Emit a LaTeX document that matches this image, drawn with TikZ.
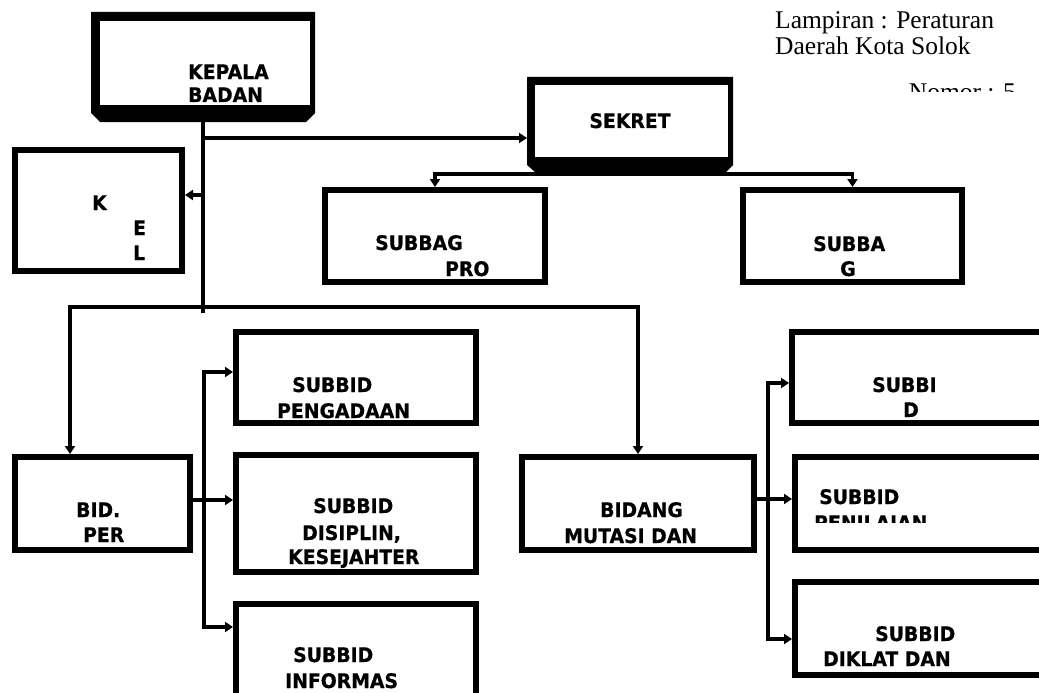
\documentclass[tikz,border=0pt]{standalone}
\usepackage{fontspec}
\setmainfont{Liberation Serif}
\newfontfamily\boxfont{DejaVu Sans}[BoldFeatures={FakeStretch=0.94,FakeBold=0.6}]
\usetikzlibrary{arrows.meta}
\begin{document}
\begin{tikzpicture}[x=1pt,y=-1pt,
  box/.style={draw, line width=6pt, inner sep=0pt},
  ghost/.style={inner sep=0pt, outer sep=0pt, anchor=north west},
  lbl/.style={font=\boxfont\bfseries\fontsize{20}{25}\selectfont, inner sep=0pt, anchor=base west},
  tms/.style={font=\fontsize{25.5}{27}\selectfont, inner sep=0pt, anchor=base west},
  tip/.tip={Triangle[length=8pt,width=10pt]},
  conn/.style={line width=3.3pt, -tip},
  bothconn/.style={line width=3.3pt, tip-tip},
  trunk/.style={line width=4pt}]
\useasboundingbox (0,0) rectangle (1039,693);
\clip (0,0) rectangle (1039,693);

% top right text
\node[tms] (lamp1) at (775,29) {Lampiran : Peraturan};
\node[tms] (lamp2) at (775,55) {Daerah Kota Solok};
\begin{scope}
\clip (880,70) rectangle (1039,91);
\node[tms, anchor=base east] (nomor) at (1016,100) {Nomor : 5};
\end{scope}

% KEPALA BADAN
\fill (91,12) -- (315,12) -- (315,113) -- (306,122) -- (100,122) -- (91,113) -- cycle;
\fill[white] (100,21) rectangle (310,105);
\node[ghost, minimum width=224pt, minimum height=110pt] (kepala) at (91,12) {};
\node[lbl] (kepT1) at (188,79) {KEPALA};
\node[lbl] (kepT2) at (188,102) {BADAN};

% SEKRET
\fill (527,77) -- (733,77) -- (733,165) -- (726,172) -- (535,172) -- (527,165) -- cycle;
\fill[white] (535,85) rectangle (728,157);
\node[ghost, minimum width=206pt, minimum height=97pt] (sekret) at (527,77) {};
\node[lbl, anchor=base] (sekT) at (630,128) {SEKRET};

% boxes
\node[box, anchor=north west, minimum width=167pt, minimum height=121pt] (kel) at (12,147) {};
\node[box, anchor=north west, minimum width=220pt, minimum height=92pt] (subbagpro) at (322,187) {};
\node[box, anchor=north west, minimum width=219pt, minimum height=92pt] (subbagg) at (740,187) {};
\node[box, anchor=north west, minimum width=240pt, minimum height=91pt] (pengadaan) at (233,329) {};
\node[box, anchor=north west, minimum width=255pt, minimum height=91pt] (subbidd) at (789,329) {};
\node[box, anchor=north west, minimum width=175pt, minimum height=93pt] (bidper) at (12,454) {};
\node[box, anchor=north west, minimum width=240pt, minimum height=117pt] (disiplin) at (233,452) {};
\node[box, anchor=north west, minimum width=232pt, minimum height=93pt] (bidmut) at (519,454) {};
\node[box, anchor=north west, minimum width=252pt, minimum height=93pt] (penilaian) at (792,454) {};
\node[box, anchor=north west, minimum width=240pt, minimum height=103pt] (informas) at (233,601) {};
\node[box, anchor=north west, minimum width=252pt, minimum height=93pt] (diklat) at (792,579) {};

% texts
\node[lbl] (kelT1) at (92,210) {K};
\node[lbl] (kelT2) at (133,235) {E};
\node[lbl] (kelT3) at (133,260) {L};
\node[lbl] (proT1) at (375,250) {SUBBAG};
\node[lbl] (proT2) at (445,276) {PRO};
\node[lbl] (sgT1) at (813,251) {SUBBA};
\node[lbl] (sgT2) at (840,276) {G};
\node[lbl] (pgT1) at (292,392) {SUBBID};
\node[lbl] (pgT2) at (277,418) {PENGADAAN};
\node[lbl] (sdT1) at (872,392) {SUBBI};
\node[lbl] (sdT2) at (903,417) {D};
\node[lbl] (bpT1) at (76,517) {BID.};
\node[lbl] (bpT2) at (83,542) {PER};
\node[lbl] (dsT1) at (313,513) {SUBBID};
\node[lbl] (dsT2) at (302,540) {DISIPLIN,};
\node[lbl] (dsT3) at (288,564) {KESEJAHTER};
\node[lbl] (bmT1) at (600,517) {BIDANG};
\node[lbl] (bmT2) at (564,543) {MUTASI DAN};
\node[lbl] (pnT1) at (819,504) {SUBBID};
\begin{scope}
\clip (800,505) rectangle (1039,522);
\node[lbl] (pnT2) at (814,530) {PENILAIAN};
\end{scope}
\node[lbl] (inT1) at (293,662) {SUBBID};
\node[lbl] (inT2) at (285,688) {INFORMAS};
\node[lbl] (dkT1) at (875,641) {SUBBID};
\node[lbl] (dkT2) at (823,666) {DIKLAT DAN};

% connectors
\coordinate (pl) at (70,307);
\coordinate (bl1) at (204,372);
\coordinate (bl2) at (204,627);
\coordinate (br1) at (768,383);
\coordinate (br2) at (768,639);
\draw[trunk] (kepala.south) -- (kepala.south |- 0,313);
\draw[conn] (kepala.south |- 0,138) -- (sekret.west |- 0,138);
\draw[conn] (kepala.south |- 0,195) -- (kel.east |- 0,195);
\draw[conn] (sekret.south) -| (subbagpro.north);
\draw[conn] (sekret.south) -| (subbagg.north);
\draw[conn] (kepala.south |- pl) -| (bidper.north -| pl);
\draw[conn] (kepala.south |- pl) -| (bidmut.north);
\draw[conn] (bidper.east |- 0,500) -- (disiplin.west |- 0,500);
\draw[bothconn] (pengadaan.west |- bl1) -| (bl2) -- (bl2 -| informas.west);
\draw[conn] (bidmut.east |- 0,499) -- (penilaian.west |- 0,499);
\draw[bothconn] (subbidd.west |- br1) -| (br2) -- (br2 -| diklat.west);
\end{tikzpicture}
\end{document}
